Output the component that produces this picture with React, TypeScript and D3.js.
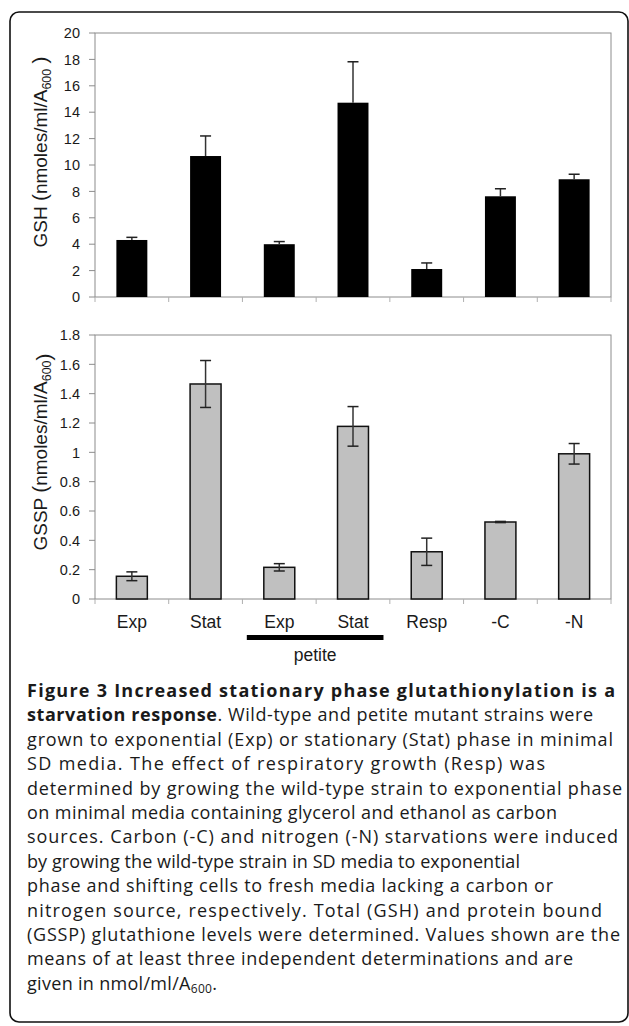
import React, { useEffect, useRef } from 'react';
import * as d3 from 'd3';

// categories along the shared x axis
const categories = ['Exp', 'Stat', 'Exp', 'Stat', 'Resp', '-C', '-N'];

// total glutathione (top panel)
const gshValues = [4.32, 10.68, 4.0, 14.72, 2.12, 7.63, 8.92];
const gshErrors = [0.2, 1.52, 0.2, 3.1, 0.46, 0.57, 0.38];
const gshTicks = [0, 2, 4, 6, 8, 10, 12, 14, 16, 18, 20];

// protein bound glutathione (bottom panel)
const gsspValues = [0.155, 1.466, 0.216, 1.177, 0.322, 0.525, 0.99];
const gsspErrors = [0.03, 0.16, 0.025, 0.135, 0.093, 0.004, 0.07];
const gsspTicks = [0, 0.2, 0.4, 0.6, 0.8, 1, 1.2, 1.4, 1.6, 1.8];

// caption, one entry per printed line: [bold part, regular part]
const captionLines = [
    ['Figure 3 Increased stationary phase glutathionylation is a', ''],
    ['starvation response', '. Wild-type and petite mutant strains were'],
    ['', 'grown to exponential (Exp) or stationary (Stat) phase in minimal'],
    ['', 'SD media. The effect of respiratory growth (Resp) was'],
    ['', 'determined by growing the wild-type strain to exponential phase'],
    ['', 'on minimal media containing glycerol and ethanol as carbon'],
    ['', 'sources. Carbon (-C) and nitrogen (-N) starvations were induced'],
    ['', 'by growing the wild-type strain in SD media to exponential'],
    ['', 'phase and shifting cells to fresh media lacking a carbon or'],
    ['', 'nitrogen source, respectively. Total (GSH) and protein bound'],
    ['', '(GSSP) glutathione levels were determined. Values shown are the'],
    ['', 'means of at least three independent determinations and are'],
];
// printed width of each caption line (the last one is the A600 line)
const captionWidths = [588, 566, 586, 518, 595, 530, 591, 493, 526, 575, 593, 546, 190];

const W = 629;
const H = 1026;
const FONT = '"Liberation Sans", Arial, sans-serif';
const CAP_FONT = '"Open Sans", "Noto Sans", sans-serif';

export default function App() {
    const ref = useRef<SVGSVGElement>(null);

    useEffect(() => {
        const svg = d3.select(ref.current);
        svg.selectAll('*').remove();

        // frame around the whole figure
        svg.append('rect')
            .attr('x', 10).attr('y', 12)
            .attr('width', 618).attr('height', 1010)
            .attr('rx', 9)
            .attr('fill', 'none')
            .attr('stroke', '#111')
            .attr('stroke-width', 1.6);

        const x = d3.scaleBand<number>()
            .domain(d3.range(categories.length))
            .range([95, 611])
            .paddingInner(0.58)
            .paddingOuter(0.29);

        const panel = (top, bottom, max, values, errors, ticks, fmt, fill, twoSided, label, labelY, trail) => {
            const y = d3.scaleLinear().domain([0, max]).range([bottom, top]);
            const g = svg.append('g');

            // plot area border
            g.append('rect')
                .attr('x', 95).attr('y', top)
                .attr('width', 516).attr('height', bottom - top)
                .attr('fill', 'none')
                .attr('stroke', '#8c8c8c')
                .attr('stroke-width', 1);

            // y ticks + labels
            ticks.forEach(t => {
                g.append('line')
                    .attr('x1', 89).attr('x2', 95)
                    .attr('y1', y(t)).attr('y2', y(t))
                    .attr('stroke', '#8c8c8c');
                g.append('text')
                    .attr('x', 80).attr('y', y(t))
                    .attr('dy', '0.36em')
                    .attr('text-anchor', 'end')
                    .attr('font-family', FONT)
                    .attr('font-size', 14.5)
                    .attr('fill', '#1a1a1a')
                    .text(fmt(t));
            });

            // category boundary ticks under the axis
            const step = x.step();
            d3.range(categories.length + 1).forEach(i => {
                const bx = 95 + i * step;
                g.append('line')
                    .attr('x1', bx).attr('x2', bx)
                    .attr('y1', bottom).attr('y2', bottom + 5)
                    .attr('stroke', '#b0b0b0');
            });

            // bars
            g.selectAll('rect.bar')
                .data(values)
                .enter()
                .append('rect')
                .attr('class', 'bar')
                .attr('x', (d, i) => x(i))
                .attr('y', d => y(d))
                .attr('width', x.bandwidth())
                .attr('height', d => bottom - y(d))
                .attr('fill', fill)
                .attr('stroke', '#111')
                .attr('stroke-width', fill === '#000' ? 0 : 1.5);

            // error bars
            values.forEach((v, i) => {
                const cx = x(i) + x.bandwidth() / 2;
                const hi = y(v + errors[i]);
                const lo = twoSided ? y(v - errors[i]) : y(v);
                g.append('line')
                    .attr('x1', cx).attr('x2', cx)
                    .attr('y1', hi).attr('y2', lo)
                    .attr('stroke', '#333').attr('stroke-width', 1.5);
                const caps = twoSided ? [hi, lo] : [hi];
                caps.forEach(cy => {
                    g.append('line')
                        .attr('x1', cx - 5.5).attr('x2', cx + 5.5)
                        .attr('y1', cy).attr('y2', cy)
                        .attr('stroke', '#222').attr('stroke-width', 1.5);
                });
            });

            // rotated y label
            const t = g.append('text')
                .attr('transform', `translate(47,${labelY}) rotate(-90)`)
                .attr('text-anchor', 'middle')
                .attr('font-family', FONT)
                .attr('font-size', 19)
                .attr('fill', '#1a1a1a');
            t.append('tspan').text(label + ' ');
            t.append('tspan').attr('font-size', 21).text('(');
            t.append('tspan').text('nmoles/ml/A');
            t.append('tspan').attr('font-size', 12.5).attr('dy', 4).text('600');
            t.append('tspan').attr('dy', -4).text(trail);
            t.append('tspan').attr('font-size', 21).text(')');
        };

        panel(33, 297, 20, gshValues, gshErrors, gshTicks, d3.format('d'),
            '#000', false, 'GSH', 152, ' ');
        panel(335, 599, 1.8, gsspValues, gsspErrors, gsspTicks, d => String(+d.toFixed(1)),
            '#c0c0c0', true, 'GSSP', 452, '');

        // category labels
        svg.selectAll('text.cat')
            .data(categories)
            .enter()
            .append('text')
            .attr('class', 'cat')
            .attr('x', (d, i) => x(i) + x.bandwidth() / 2)
            .attr('y', 628)
            .attr('text-anchor', 'middle')
            .attr('font-family', FONT)
            .attr('font-size', 17.5)
            .attr('fill', '#1a1a1a')
            .text(d => d);

        // petite bracket under columns 3-4
        const bx0 = x(2) - 17;
        const bx1 = x(3) + x.bandwidth() + 15;
        svg.append('rect')
            .attr('x', bx0).attr('y', 635)
            .attr('width', bx1 - bx0).attr('height', 5)
            .attr('fill', '#000');
        svg.append('text')
            .attr('x', (bx0 + bx1) / 2)
            .attr('y', 661)
            .attr('text-anchor', 'middle')
            .attr('font-family', FONT)
            .attr('font-size', 17.5)
            .attr('fill', '#1a1a1a')
            .text('petite');

        // caption
        const cap = svg.append('g')
            .attr('font-family', CAP_FONT)
            .attr('font-size', 18)
            .attr('fill', '#1a1a1a');
        captionLines.forEach(([b, r], i) => {
            const line = cap.append('text')
                .attr('x', 27).attr('y', 697 + i * 24.4)
                .attr('textLength', captionWidths[i])
                .attr('lengthAdjust', 'spacing');
            if (b) line.append('tspan').attr('font-weight', 'bold').text(b);
            if (r) line.append('tspan').text(r);
        });
        const last = cap.append('text')
            .attr('x', 27).attr('y', 697 + 12 * 24.4)
            .attr('textLength', captionWidths[12])
            .attr('lengthAdjust', 'spacing');
        last.append('tspan').text('given in nmol/ml/A');
        last.append('tspan').attr('font-size', 12).attr('dy', 3).text('600');
        last.append('tspan').attr('dy', -3).text('.');
    }, []);

    return (
        <svg ref={ref} width={W} height={H}
            style={{ position: 'absolute', left: 0, top: 0, background: '#fff' }}>
        </svg>
    );
}
